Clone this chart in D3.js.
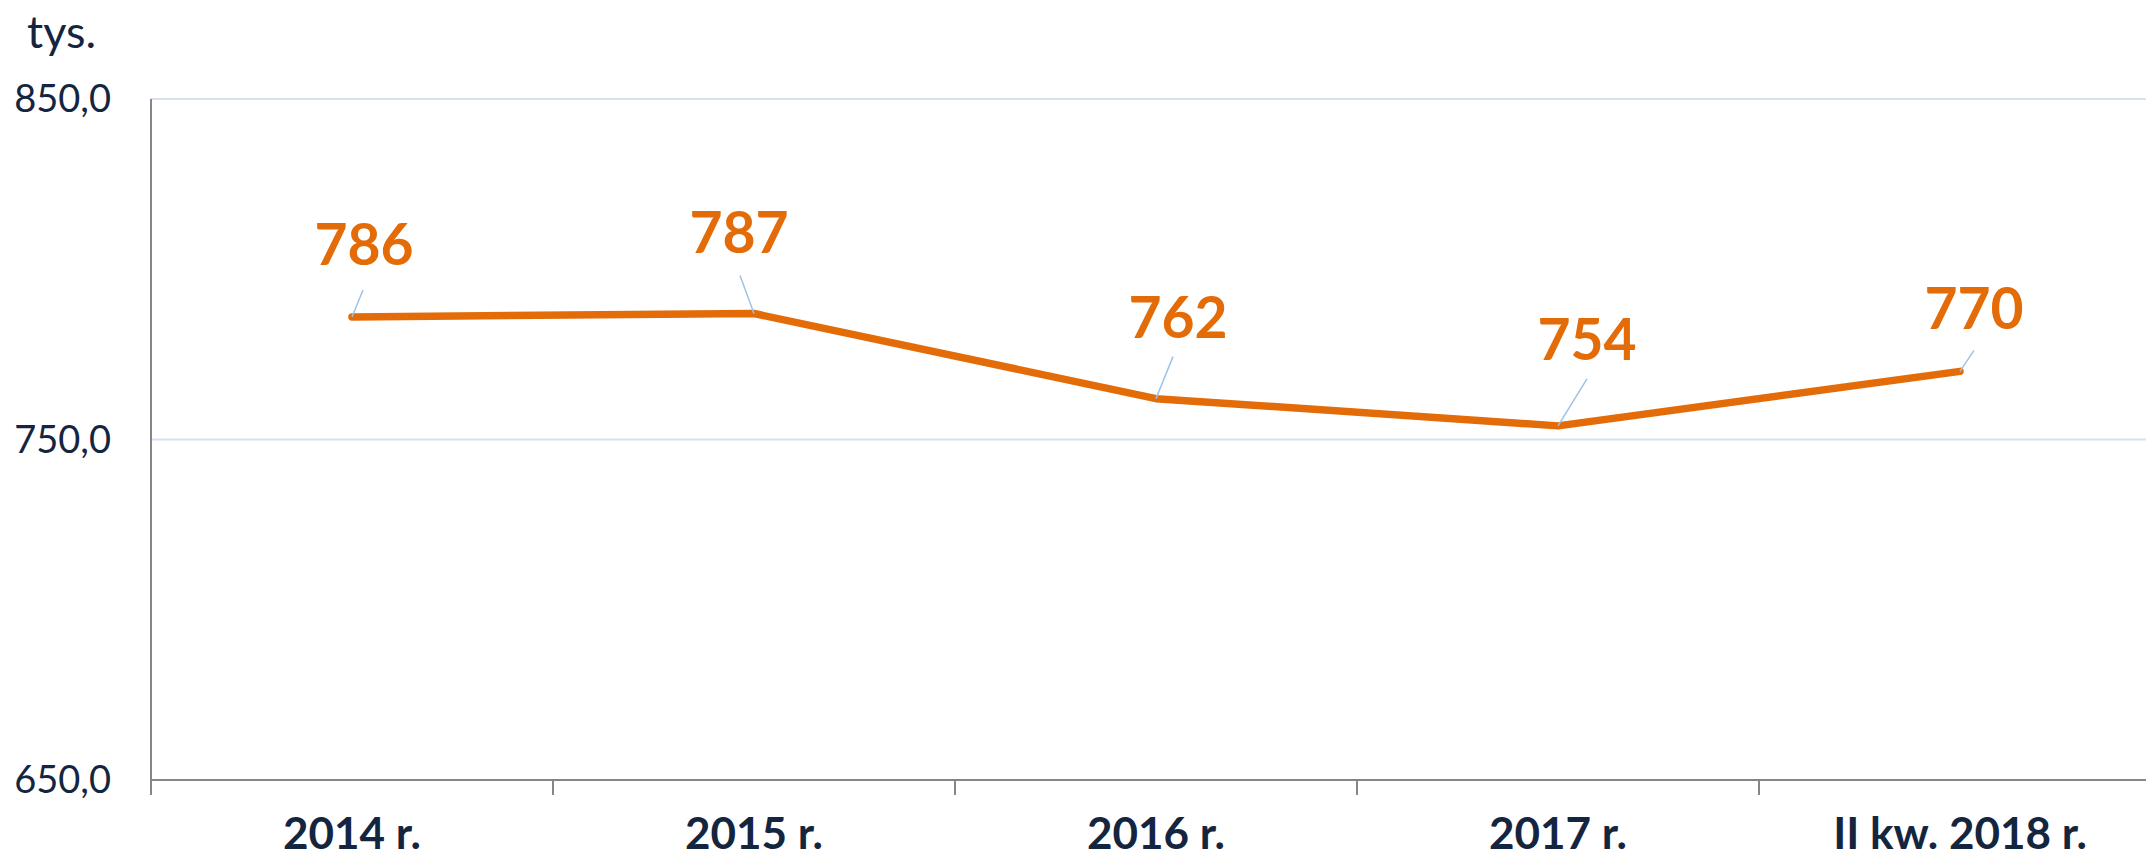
<html>
<head>
<script src="https://cdn.jsdelivr.net/npm/d3@7"></script>
<style>
body { margin: 0; background: #fff; }
text { font-family: Lato, "Open Sans", sans-serif; }
</style>
</head>
<body>
<svg id="chart" width="2146" height="860"></svg>
<script>
// categories and values (tys.)
var categories = ["2014 r.", "2015 r.", "2016 r.", "2017 r.", "II kw. 2018 r."];
var values = [786, 787, 762, 754, 770];
var yTicks = [650, 750, 850];

// manual label placement (like Excel's dragged labels): [dx, dy] of label, [dx, dy] of leader end
var labelShift = [[12, -52], [-15, -61], [22, -61], [29, -66], [14, -42]];
var leaderEnd = [[11, -27], [-14, -38], [17, -42], [29, -47], [14, -21]];

var navy = "#14253f",
    orange = "#e36c09";

var svg = d3.select("#chart");

var x = d3.scaleBand().domain(categories).range([151, 2161]).padding(0);
var y = d3.scaleLinear().domain([650, 850]).range([780, 99]);

// gridlines
svg.selectAll("line.grid")
    .data(yTicks.slice(1))
    .enter().append("line")
      .attr("class", "grid")
      .attr("x1", 151).attr("x2", 2161)
      .attr("y1", function(d) { return y(d); })
      .attr("y2", function(d) { return y(d); })
      .style("stroke", "#d6e2f0")
      .style("stroke-width", 2);

// y tick labels
svg.selectAll("text.ylab")
    .data(yTicks)
    .enter().append("text")
      .attr("class", "ylab")
      .attr("x", 111)
      .attr("y", function(d) { return y(d) + 13; })
      .attr("text-anchor", "end")
      .style("font-size", "38px")
      .style("fill", navy)
      .text(function(d) { return d3.format(".1f")(d).replace(".", ","); });

svg.append("text")
    .attr("x", 27).attr("y", 48)
    .style("font-size", "45px")
    .style("fill", navy)
    .text("tys.");

// axes lines
svg.append("line")
    .attr("x1", 151).attr("x2", 151)
    .attr("y1", y(850)).attr("y2", y(650) + 15)
    .style("stroke", "#868686").style("stroke-width", 2);
svg.append("line")
    .attr("x1", 151).attr("x2", 2161)
    .attr("y1", y(650)).attr("y2", y(650))
    .style("stroke", "#868686").style("stroke-width", 2);

// tick marks between categories
svg.selectAll("line.tick")
    .data(categories)
    .enter().append("line")
      .attr("class", "tick")
      .attr("x1", function(d) { return x(d); })
      .attr("x2", function(d) { return x(d); })
      .attr("y1", y(650)).attr("y2", y(650) + 15)
      .style("stroke", "#868686").style("stroke-width", 2);

// x labels
svg.selectAll("text.xlab")
    .data(categories)
    .enter().append("text")
      .attr("class", "xlab")
      .attr("x", function(d) { return x(d) + x.bandwidth() / 2; })
      .attr("y", 849)
      .attr("text-anchor", "middle")
      .style("font-size", "44px")
      .style("font-weight", "bold")
      .style("fill", navy)
      .text(function(d) { return d; });

var pts = categories.map(function(c, i) {
  return { cx: x(c) + x.bandwidth() / 2, cy: y(values[i]), v: values[i], i: i };
});

// the line
svg.append("path")
    .datum(pts)
    .attr("d", d3.line().x(function(d) { return d.cx; }).y(function(d) { return d.cy; }))
    .style("fill", "none")
    .style("stroke", orange)
    .style("stroke-width", 7.5)
    .style("stroke-linecap", "round")
    .style("stroke-linejoin", "round");

// leader lines
svg.selectAll("line.leader")
    .data(pts)
    .enter().append("line")
      .attr("class", "leader")
      .attr("x1", function(d) { return d.cx; })
      .attr("y1", function(d) { return d.cy; })
      .attr("x2", function(d) { return d.cx + leaderEnd[d.i][0]; })
      .attr("y2", function(d) { return d.cy + leaderEnd[d.i][1]; })
      .style("stroke", "#9dc3e6")
      .style("stroke-width", 1.5);

// data labels
svg.selectAll("text.val")
    .data(pts)
    .enter().append("text")
      .attr("class", "val")
      .attr("x", function(d) { return d.cx + labelShift[d.i][0]; })
      .attr("y", function(d) { return d.cy + labelShift[d.i][1]; })
      .attr("text-anchor", "middle")
      .style("font-size", "57px")
      .style("font-weight", "bold")
      .style("fill", orange)
      .text(function(d) { return d.v; });
</script>
</body>
</html>
